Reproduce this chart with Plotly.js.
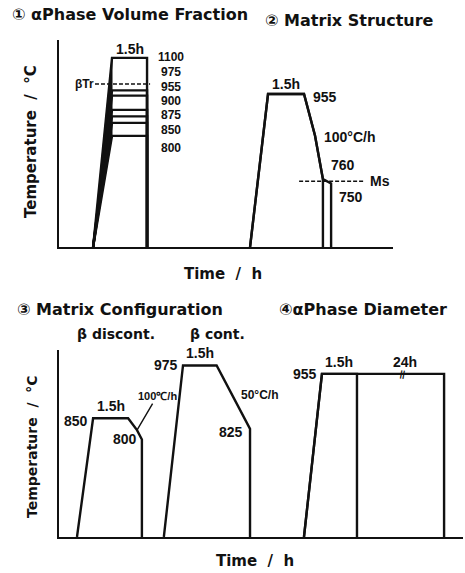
<!DOCTYPE html>
<html><head><meta charset="utf-8">
<script src="https://cdn.plot.ly/plotly-3.0.1.min.js"></script>
<style>html,body{margin:0;padding:0;background:#fff}</style>
</head><body><div id="chart" style="width:465px;height:573px"></div>
<script>
// ===== Data: schematic heat-treatment schedules (time in h, temperature in °C) =====
// ① α phase volume fraction: heat, hold 1.5 h at each temperature, quench
const p1HoldTemps = [1100, 975, 955, 900, 875, 850, 800];
const p1Times = [1.46, 2.27, 3.77];            // heating start, hold start, quench
const betaTransus = 1000;
const betaTrLineTimes = [1.54, 3.90];
// ② matrix structure: 955 °C 1.5 h, cool 100 °C/h to 760 / 750 °C, quench
const p2Times = [8.18, 8.95, 10.49, 10.96, 11.30, 11.65];
const p2Temps = [955, 955, 860, 760, 750];     // temperatures at p2Times[1..]
const msTemp = 755;
const msLineTimes = [10.28, 13.06];
// ③ matrix configuration
const p3aTimes = [0.77, 1.46, 2.96, 3.34, 3.55];   // β discont.: 850 °C, 100 °C/h to 800 °C
const p3aTemps = [850, 850, 822, 800];
const p3bTimes = [4.49, 5.31, 6.75, 8.18];         // β cont.: 975 °C, 50 °C/h to 825 °C
const p3bTemps = [975, 975, 825];
// ④ α phase diameter: 955 °C for 1.5 h or 24 h
const p4ShortTimes = [10.49, 11.26, 12.76];
const p4LongTimes = [10.49, 11.26, 16.49];
const p4Temps = [955, 955];
const p4BreakTime = 14.73;

// ===== Axis ranges (schematic axes, no ticks) =====
const xTopRange = [0, 14.3], xBotRange = [0, 17.3];
const y1Range = [372, 1169], y2Range = [604.5, 1078.7], yBotRange = [569.4, 1011.5];

const INK = '#111';
const LW = 2.4;
function sched(times, temps, floorT, xa, ya) {
  const x = times.concat([times[times.length - 1]]);
  const y = [floorT].concat(temps, [floorT]);
  return {x, y, xaxis: xa, yaxis: ya, mode: 'lines', line: {color: INK, width: LW},
          hoverinfo: 'skip', showlegend: false};
}
const traces = [];
// Panel 1
traces.push({x: [p1Times[0], p1Times[1], p1Times[1], p1Times[0]],
  y: [y1Range[0], Math.max(...p1HoldTemps), Math.min(...p1HoldTemps), y1Range[0]],
  xaxis: 'x', yaxis: 'y', mode: 'lines', fill: 'toself', fillcolor: INK,
  line: {color: INK, width: 1}, hoverinfo: 'skip', showlegend: false});
p1HoldTemps.forEach(T => traces.push(sched(p1Times, [T, T], y1Range[0], 'x', 'y')));
traces.push({x: betaTrLineTimes, y: [betaTransus, betaTransus], xaxis: 'x', yaxis: 'y',
  mode: 'lines', line: {color: INK, width: 1.5, dash: '4px,2px'}, hoverinfo: 'skip', showlegend: false});
// Panel 2
traces.push(sched(p2Times.slice(0, 5), p2Temps.slice(0, 4), y2Range[0], 'x', 'y3'));
traces.push(sched(p2Times, p2Temps, y2Range[0], 'x', 'y3'));
traces.push({x: msLineTimes, y: [msTemp, msTemp], xaxis: 'x', yaxis: 'y3',
  mode: 'lines', line: {color: INK, width: 1.5, dash: '4px,2px'}, hoverinfo: 'skip', showlegend: false});
// Panel 3
traces.push(sched(p3aTimes, p3aTemps, yBotRange[0], 'x2', 'y2'));
traces.push(sched(p3bTimes, p3bTemps, yBotRange[0], 'x2', 'y2'));
// Panel 4
traces.push(sched(p4ShortTimes, p4Temps, yBotRange[0], 'x2', 'y2'));
traces.push(sched(p4LongTimes, p4Temps, yBotRange[0], 'x2', 'y2'));

// ===== Text =====
const W = 465, H = 573;
const px = v => v / W, py = v => 1 - v / H;
const TF = 'DejaVu Sans, sans-serif';
const NF = 'Liberation Sans, Arial, sans-serif';
const tf = (s) => ({family: TF, size: s, color: INK, weight: 700});
const nf = (s) => ({family: NF, size: s, color: INK, weight: 700});
function pa(text, x, y, font, o) {
  return Object.assign({text, x: px(x), y: py(y), xref: 'paper', yref: 'paper',
    xanchor: 'left', yanchor: 'middle', showarrow: false, font}, o || {});
}
function da(text, x, y, xr, yr, font, o) {
  return Object.assign({text, x, y, xref: xr, yref: yr, xanchor: 'center', yanchor: 'middle',
    showarrow: false, font}, o || {});
}
const ann = [
  pa('① αPhase Volume Fraction', 10, 15, tf(16)),
  pa('② Matrix Structure', 263, 21, tf(16)),
  pa('Temperature  /  °C', 31.5, 141.5, tf(15), {xanchor: 'center', textangle: -90}),
  pa('Time  /  h', 222.5, 274, tf(15), {xanchor: 'center'}),
  pa('③ Matrix Configuration', 15, 309, tf(16)),
  pa('④αPhase Diameter', 277, 309, tf(16)),
  pa('β discont.', 75, 334, tf(14)),
  pa('β cont.', 188, 334, tf(14)),
  pa('Temperature  /  °C', 32, 447, tf(14), {xanchor: 'center', textangle: -90}),
  pa('Time  /  h', 255, 561, tf(15), {xanchor: 'center'}),
  // panel 1
  da('1.5h', (p1Times[1] + p1Times[2]) / 2, p1HoldTemps[0], 'x', 'y', nf(14), {yanchor: 'bottom', yshift: -1}),
  da('βTr', betaTrLineTimes[0], betaTransus, 'x', 'y', nf(12), {xanchor: 'right', xshift: 1}),
  // panel 2
  da('1.5h', (p2Times[1] + p2Times[2]) / 2, p2Temps[0], 'x', 'y3', nf(14), {yanchor: 'bottom', yshift: 0}),
  da(String(p2Temps[0]), p2Times[2], p2Temps[0], 'x', 'y3', nf(14), {xanchor: 'left', xshift: 7, yshift: -3}),
  pa('100°C/h', 322, 137, nf(14)),
  pa(String(p2Temps[3]), 329, 165, nf(14)),
  pa(String(p2Temps[4]), 337, 197, nf(14)),
  da('Ms', msLineTimes[1], msTemp, 'x', 'y3', nf(14), {xanchor: 'left', xshift: 4}),
  // panel 3
  da(String(p3aTemps[0]), p3aTimes[1], p3aTemps[0], 'x2', 'y2', nf(14), {xanchor: 'right', xshift: -3, yshift: -3}),
  da('1.5h', (p3aTimes[1] + p3aTimes[2]) / 2, p3aTemps[0], 'x2', 'y2', nf(14), {yanchor: 'bottom', yshift: 2}),
  da('100℃/h', p3aTimes[3], p3aTemps[2], 'x2', 'y2', nf(11), {showarrow: true, arrowhead: 0, arrowwidth: 1.4,
     arrowcolor: INK, ax: 20, ay: -34, standoff: 0}),
  da(String(p3aTemps[3]), p3aTimes[4], p3aTemps[3], 'x2', 'y2', nf(14), {xanchor: 'right', xshift: -3}),
  da(String(p3bTemps[0]), p3bTimes[1], p3bTemps[0], 'x2', 'y2', nf(14), {xanchor: 'right', xshift: -3}),
  da('1.5h', (p3bTimes[1] + p3bTimes[2]) / 2, p3bTemps[0], 'x2', 'y2', nf(14), {yanchor: 'bottom', yshift: 2}),
  da('50°C/h', p3bTimes[2], p3bTemps[1], 'x2', 'y2', nf(12), {xanchor: 'left', xshift: 22, yshift: -30}),
  da(String(p3bTemps[2]), p3bTimes[3], p3bTemps[2], 'x2', 'y2', nf(14), {xanchor: 'right', xshift: -5, yshift: -3}),
  // panel 4
  da(String(p4Temps[0]), p4ShortTimes[1], p4Temps[0], 'x2', 'y2', nf(14), {xanchor: 'right', xshift: -3}),
  da('1.5h', (p4ShortTimes[1] + p4ShortTimes[2]) / 2, p4Temps[0], 'x2', 'y2', nf(14), {yanchor: 'bottom', yshift: 2}),
  da('24h', (p4ShortTimes[2] + p4LongTimes[2]) / 2, p4Temps[0], 'x2', 'y2', nf(14), {yanchor: 'bottom', yshift: 2, xshift: 4}),
  da('||', p4BreakTime, p4Temps[0], 'x2', 'y2', nf(9), {textangle: 10})
];
// panel 1 value column (stacked beside the holding box)
const p1LabelY = [57, 72, 86.5, 101, 115.5, 130, 148];
p1HoldTemps.forEach((T, i) => ann.push(pa(String(T), 171, p1LabelY[i], nf(12), {xanchor: 'center'})));

const axBase = {showline: true, linecolor: INK, linewidth: 2, showgrid: false, zeroline: false,
  showticklabels: false, ticks: '', fixedrange: true};
const layout = {
  width: W, height: H, margin: {l: 0, r: 0, t: 0, b: 0},
  paper_bgcolor: '#fff', plot_bgcolor: 'rgba(0,0,0,0)', showlegend: false,
  xaxis: Object.assign({}, axBase, {domain: [px(59), px(393)], range: xTopRange, anchor: 'y'}),
  yaxis: Object.assign({}, axBase, {domain: [py(247), py(40)], range: y1Range, anchor: 'x'}),
  yaxis3: {overlaying: 'y', range: y2Range, visible: false, anchor: 'x', fixedrange: true},
  xaxis2: Object.assign({}, axBase, {domain: [px(59), px(463)], range: xBotRange, anchor: 'y2'}),
  yaxis2: Object.assign({}, axBase, {domain: [py(537), py(350)], range: yBotRange, anchor: 'x2'}),
  annotations: ann
};
Plotly.newPlot('chart', traces, layout, {displayModeBar: false, staticPlot: true});
</script></body></html>
